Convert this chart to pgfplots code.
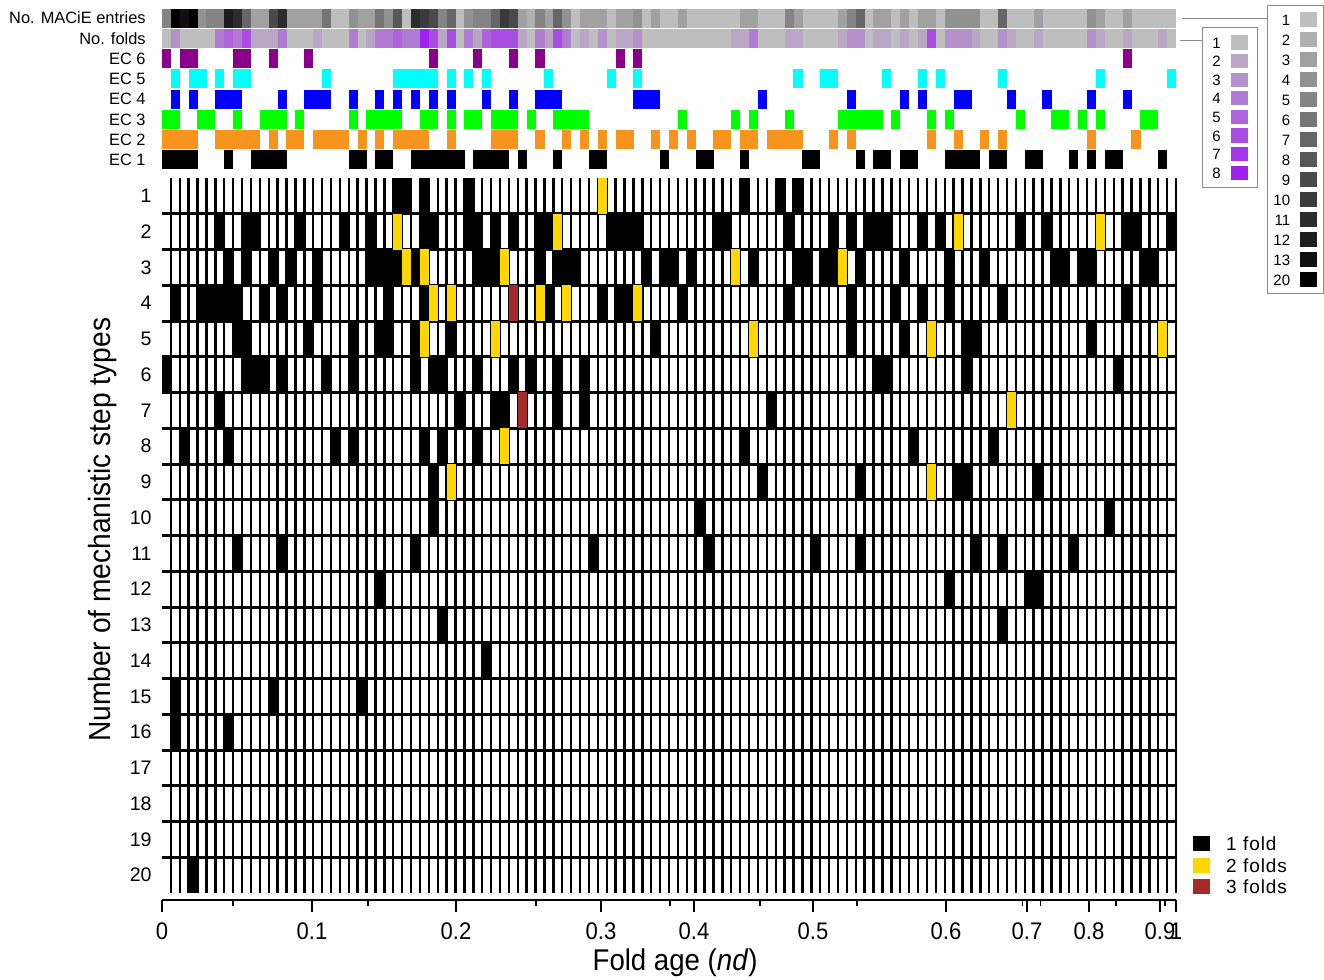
\documentclass[border=0pt]{standalone}
\usepackage{fontspec}
\usepackage{pgfplots}
\pgfplotsset{compat=1.18}
\usepackage{pgfplotstable}
\setmainfont{Liberation Sans}
\newfontfamily\narrowfont[FakeStretch=0.92]{Liberation Sans}

\definecolor{ecsix}{RGB}{139,0,139}
\definecolor{ecfive}{RGB}{0,255,255}
\definecolor{ecfour}{RGB}{0,0,255}
\definecolor{ecthree}{RGB}{0,255,0}
\definecolor{ectwo}{RGB}{247,148,30}
\definecolor{econe}{RGB}{0,0,0}
\definecolor{twofold}{RGB}{255,215,0}
\definecolor{threefold}{RGB}{165,42,42}
\definecolor{boxgray}{RGB}{140,140,140}
\definecolor{m0}{RGB}{190,190,190}\definecolor{m1}{RGB}{175,175,175}
\definecolor{m2}{RGB}{161,161,161}\definecolor{m3}{RGB}{146,146,146}
\definecolor{m4}{RGB}{132,132,132}\definecolor{m5}{RGB}{117,117,117}
\definecolor{m6}{RGB}{102,102,102}\definecolor{m7}{RGB}{88,88,88}
\definecolor{m8}{RGB}{73,73,73}\definecolor{m9}{RGB}{58,58,58}
\definecolor{m10}{RGB}{44,44,44}\definecolor{m11}{RGB}{29,29,29}
\definecolor{m12}{RGB}{15,15,15}\definecolor{m13}{RGB}{0,0,0}
\definecolor{f0}{RGB}{190,190,190}\definecolor{f1}{RGB}{186,167,197}
\definecolor{f2}{RGB}{181,145,204}\definecolor{f3}{RGB}{177,122,211}
\definecolor{f4}{RGB}{173,100,219}\definecolor{f5}{RGB}{169,77,226}
\definecolor{f6}{RGB}{164,55,233}\definecolor{f7}{RGB}{160,32,240}

\pgfdeclareplotmark{cellmain}{\pgfpathrectangle{\pgfqpoint{-2.25pt}{-8.95pt}}{\pgfqpoint{4.5pt}{17.9pt}}\pgfusepathqfill}
\pgfdeclareplotmark{cellstrip}{\pgfpathrectangle{\pgfqpoint{-2.27pt}{-4.7pt}}{\pgfqpoint{4.54pt}{9.4pt}}\pgfusepathqfill}

\pgfplotsset{
  cb/.style={forget plot, only marks, mark=cellmain, black},
  cy/.style={forget plot, only marks, mark=cellmain, twofold},
  cr/.style={forget plot, only marks, mark=cellmain, threefold},
  cs/.style={forget plot, only marks, mark=cellstrip, #1},
}

\pgfplotstableread[row sep=\\]{c k\\0 4\\1 13\\2 12\\3 13\\4 3\\5 4\\6 4\\7 11\\8 10\\9 6\\10 2\\11 2\\12 8\\13 10\\14 2\\15 2\\16 2\\17 2\\18 5\\19 0\\20 0\\21 3\\22 2\\23 2\\24 5\\25 3\\26 7\\27 0\\28 10\\29 9\\30 8\\31 4\\32 6\\33 0\\34 3\\35 4\\36 4\\37 6\\38 9\\39 8\\40 2\\41 1\\42 4\\43 2\\44 6\\45 3\\46 0\\47 2\\48 2\\49 2\\50 0\\51 2\\52 2\\53 3\\54 0\\55 2\\56 0\\57 0\\58 2\\59 0\\60 0\\61 0\\62 0\\63 0\\64 0\\65 2\\66 2\\67 0\\68 0\\69 0\\70 4\\71 2\\72 0\\73 0\\74 0\\75 0\\76 2\\77 4\\78 6\\79 0\\80 2\\81 2\\82 0\\83 2\\84 0\\85 2\\86 2\\87 0\\88 3\\89 3\\90 3\\91 3\\92 0\\93 0\\94 6\\95 0\\96 0\\97 0\\98 2\\99 0\\100 0\\101 0\\102 0\\103 0\\104 3\\105 2\\106 0\\107 0\\108 2\\109 0\\110 0\\111 0\\112 0\\113 0\\}\maciedata

\pgfplotstableread[row sep=\\]{c k\\0 0\\1 2\\2 0\\3 0\\4 0\\5 0\\6 3\\7 4\\8 3\\9 5\\10 1\\11 1\\12 1\\13 3\\14 0\\15 0\\16 0\\17 1\\18 0\\19 0\\20 0\\21 3\\22 0\\23 1\\24 3\\25 3\\26 4\\27 3\\28 3\\29 7\\30 5\\31 1\\32 5\\33 0\\34 3\\35 1\\36 4\\37 5\\38 5\\39 5\\40 1\\41 0\\42 3\\43 1\\44 5\\45 3\\46 0\\47 1\\48 0\\49 2\\50 0\\51 1\\52 1\\53 2\\54 0\\55 0\\56 0\\57 0\\58 0\\59 0\\60 0\\61 0\\62 0\\63 0\\64 1\\65 1\\66 3\\67 0\\68 0\\69 0\\70 1\\71 1\\72 0\\73 0\\74 0\\75 0\\76 1\\77 2\\78 2\\79 0\\80 1\\81 1\\82 0\\83 1\\84 0\\85 1\\86 5\\87 0\\88 2\\89 2\\90 2\\91 1\\92 0\\93 0\\94 2\\95 1\\96 0\\97 0\\98 1\\99 0\\100 0\\101 0\\102 0\\103 0\\104 2\\105 1\\106 0\\107 0\\108 1\\109 0\\110 0\\111 0\\112 1\\113 0\\}\folddata

\begin{document}
\begin{tikzpicture}
\useasboundingbox (0,0) rectangle (662pt,490pt);

% ---------------- top strip ----------------
\begin{axis}[
  at={(81pt,405pt)}, anchor=south west,
  scale only axis, width=507pt, height=81pt,
  xmin=-0.5, xmax=113.5, ymin=0.5, ymax=8.5, y dir=reverse,
  axis line style={draw=none}, clip=false,
  xtick=\empty,
  ytick={1,...,8},
  yticklabels={No. MACiE entries,No. folds,EC 6,EC 5,EC 4,EC 3,EC 2,EC 1},
  major tick length=0pt,
  yticklabel style={font=\fontsize{8.2}{9}\selectfont, inner sep=0pt, xshift=-8pt},
  legend plot pos=right, legend cell align=right,
  legend image code/.code={\fill[#1] (0pt,-3.3pt) rectangle (8pt,3.3pt);},
  legend style={at={(1.0897,1.0185)}, anchor=north west, draw=boxgray, line width=0.5pt,
    font=\fontsize{7.5}{8}\selectfont, inner xsep=3pt, inner ysep=3.5pt, row sep=2.9pt,
    nodes={inner sep=0pt, text height=5.5pt, text depth=0pt},
    /tikz/every odd column/.append style={column sep=5pt}},
]
\pgfplotsinvokeforeach{0,...,13}{
  \addplot[cs=m#1, restrict expr to domain={\thisrow{k}}{#1:#1}] table[x=c, y expr=1] {\maciedata};
}
\pgfplotsinvokeforeach{0,1,2,3,4,5,7}{
  \addplot[cs=f#1, restrict expr to domain={\thisrow{k}}{#1:#1}] table[x=c, y expr=2] {\folddata};
}
\addplot[cs=ecsix] table[row sep=\\, x=c, y expr=3] {c\\0\\2\\3\\8\\9\\12\\16\\30\\35\\39\\42\\51\\53\\108\\};
\addplot[cs=ecfive] table[row sep=\\, x=c, y expr=4] {c\\1\\3\\4\\6\\8\\9\\18\\26\\27\\28\\29\\30\\32\\34\\36\\43\\50\\53\\71\\74\\75\\81\\85\\87\\94\\105\\113\\};
\addplot[cs=ecfour] table[row sep=\\, x=c, y expr=5] {c\\1\\3\\6\\7\\8\\13\\16\\17\\18\\21\\24\\26\\28\\30\\32\\36\\39\\42\\43\\44\\53\\54\\55\\67\\77\\83\\85\\89\\90\\95\\99\\104\\108\\};
\addplot[cs=ecthree] table[row sep=\\, x=c, y expr=6] {c\\0\\1\\4\\5\\8\\11\\12\\13\\15\\21\\23\\24\\25\\26\\29\\30\\32\\34\\35\\37\\38\\39\\41\\44\\45\\46\\47\\58\\64\\66\\70\\76\\77\\78\\79\\80\\82\\86\\88\\96\\100\\101\\103\\105\\110\\111\\};
\addplot[cs=ectwo] table[row sep=\\, x=c, y expr=7] {c\\0\\1\\2\\3\\6\\7\\8\\9\\10\\12\\14\\15\\17\\18\\19\\20\\22\\24\\26\\27\\28\\29\\32\\37\\38\\39\\42\\45\\47\\49\\51\\52\\55\\57\\59\\62\\63\\65\\66\\68\\69\\70\\71\\75\\77\\86\\89\\92\\94\\104\\109\\};
\addplot[cs=econe] table[row sep=\\, x=c, y expr=8] {c\\0\\1\\2\\3\\7\\10\\11\\12\\13\\21\\22\\24\\25\\28\\29\\30\\31\\32\\33\\35\\36\\37\\38\\40\\44\\48\\49\\56\\60\\61\\65\\72\\73\\78\\80\\81\\83\\84\\88\\89\\90\\91\\93\\94\\97\\98\\102\\104\\106\\107\\112\\};
% connector lines to the legends
\addplot[forget plot, boxgray, line width=0.5pt] coordinates {(114.17,1.04) (123.73,1.04)};
\addplot[forget plot, boxgray, line width=0.5pt] coordinates {(113.95,2.13) (116.42,2.13)};
\addlegendimage{m0}\addlegendentry{1}
\addlegendimage{m1}\addlegendentry{2}
\addlegendimage{m2}\addlegendentry{3}
\addlegendimage{m3}\addlegendentry{4}
\addlegendimage{m4}\addlegendentry{5}
\addlegendimage{m5}\addlegendentry{6}
\addlegendimage{m6}\addlegendentry{7}
\addlegendimage{m7}\addlegendentry{8}
\addlegendimage{m8}\addlegendentry{9}
\addlegendimage{m9}\addlegendentry{10}
\addlegendimage{m10}\addlegendentry{11}
\addlegendimage{m11}\addlegendentry{12}
\addlegendimage{m12}\addlegendentry{13}
\addlegendimage{m13}\addlegendentry{20}
\end{axis}

% ---------------- folds legend (hidden axis) ----------------
\begin{axis}[
  at={(81pt,405pt)}, anchor=south west,
  scale only axis, width=507pt, height=81pt,
  xmin=0, xmax=1, ymin=0, ymax=1, hide axis,
  legend plot pos=right, legend cell align=right,
  legend image code/.code={\fill[#1] (0pt,-3.3pt) rectangle (8pt,3.3pt);},
  legend style={at={(1.0256,0.8827)}, anchor=north west, draw=boxgray, line width=0.5pt,
    font=\fontsize{7.5}{8}\selectfont, inner xsep=5pt, inner ysep=4pt, row sep=2.2pt,
    nodes={inner sep=0pt, text height=5.5pt, text depth=0pt},
    /tikz/every odd column/.append style={column sep=5pt}},
]
\addlegendimage{f0}\addlegendentry{1}
\addlegendimage{f1}\addlegendentry{2}
\addlegendimage{f2}\addlegendentry{3}
\addlegendimage{f3}\addlegendentry{4}
\addlegendimage{f4}\addlegendentry{5}
\addlegendimage{f5}\addlegendentry{6}
\addlegendimage{f6}\addlegendentry{7}
\addlegendimage{f7}\addlegendentry{8}
\end{axis}

% ---------------- main grid ----------------
\begin{axis}[
  at={(81pt,43.5pt)}, anchor=south west,
  scale only axis, width=507pt, height=357.5pt,
  xmin=-0.5, xmax=113.5, ymin=0.5, ymax=20.5, y dir=reverse,
  axis line style={draw=none}, clip=false,
  xtick={0.5,1.5,...,113.5}, xticklabels={},
  xmajorgrids,
  ytick={1,...,20},
  minor ytick={1.5,2.5,...,19.5},
  yminorgrids,
  major grid style={black, line width=1.2pt},
  minor grid style={black, line width=1.5pt},
  major tick length=0pt, minor tick length=0pt,
  /pgf/number format/assume math mode=true,
  yticklabel style={font=\fontsize{9.8}{10}\selectfont, inner sep=0pt, xshift=-5pt},
  axis on top,
  legend cell align=left,
  legend image code/.code={\fill[#1] (0pt,-3.5pt) rectangle (8pt,3.5pt);},
  legend style={draw=none, fill=none, at={(1.0168,0.0797)}, anchor=north west,
    inner sep=0pt, row sep=3.25pt,
    font=\fontsize{9.5}{10}\selectfont\addfontfeature{LetterSpace=5},
    nodes={inner sep=0pt, text height=7pt, text depth=0pt},
    /tikz/every odd column/.append style={column sep=8pt}},
]
% 1 fold (black)
\addplot[cb] table[row sep=\\, x=c, y expr=1] {c\\26\\27\\29\\34\\65\\69\\71\\};
\addplot[cb] table[row sep=\\, x=c, y expr=2] {c\\6\\9\\10\\15\\20\\23\\29\\30\\34\\35\\37\\39\\42\\43\\50\\51\\52\\53\\62\\63\\70\\75\\77\\79\\80\\81\\85\\87\\96\\99\\108\\109\\113\\};
\addplot[cb] table[row sep=\\, x=c, y expr=3] {c\\7\\9\\12\\14\\17\\23\\24\\25\\26\\28\\35\\36\\37\\42\\44\\45\\46\\54\\56\\57\\59\\66\\71\\72\\74\\75\\78\\83\\88\\92\\100\\101\\103\\104\\110\\111\\};
\addplot[cb] table[row sep=\\, x=c, y expr=4] {c\\1\\4\\5\\6\\7\\8\\11\\13\\17\\25\\29\\43\\49\\51\\52\\58\\70\\77\\82\\85\\88\\94\\108\\};
\addplot[cb] table[row sep=\\, x=c, y expr=5] {c\\8\\9\\16\\21\\24\\25\\28\\32\\55\\77\\83\\90\\91\\104\\};
\addplot[cb] table[row sep=\\, x=c, y expr=6] {c\\0\\9\\10\\11\\13\\18\\21\\28\\30\\31\\35\\39\\41\\44\\47\\80\\81\\90\\107\\};
\addplot[cb] table[row sep=\\, x=c, y expr=7] {c\\6\\33\\37\\38\\44\\47\\68\\};
\addplot[cb] table[row sep=\\, x=c, y expr=8] {c\\2\\7\\19\\21\\29\\31\\35\\65\\84\\93\\};
\addplot[cb] table[row sep=\\, x=c, y expr=9] {c\\30\\67\\78\\89\\90\\98\\};
\addplot[cb] table[row sep=\\, x=c, y expr=10] {c\\30\\60\\106\\};
\addplot[cb] table[row sep=\\, x=c, y expr=11] {c\\8\\13\\28\\48\\61\\73\\78\\91\\94\\102\\};
\addplot[cb] table[row sep=\\, x=c, y expr=12] {c\\24\\88\\97\\98\\};
\addplot[cb] table[row sep=\\, x=c, y expr=13] {c\\31\\94\\};
\addplot[cb] table[row sep=\\, x=c, y expr=14] {c\\36\\};
\addplot[cb] table[row sep=\\, x=c, y expr=15] {c\\1\\12\\22\\};
\addplot[cb] table[row sep=\\, x=c, y expr=16] {c\\1\\7\\};
\addplot[cb] table[row sep=\\, x=c, y expr=20] {c\\3\\};
% 2 folds (yellow)
\addplot[cy] table[row sep=\\, x=c, y=r] {c r\\49 1\\26 2\\44 2\\89 2\\105 2\\27 3\\29 3\\38 3\\64 3\\76 3\\30 4\\32 4\\42 4\\45 4\\53 4\\29 5\\37 5\\66 5\\86 5\\112 5\\95 7\\38 8\\32 9\\86 9\\};
% 3 folds (brown)
\addplot[cr] table[row sep=\\, x=c, y=r] {c r\\39 4\\40 7\\};
\addlegendimage{black}\addlegendentry{1 fold}
\addlegendimage{twofold}\addlegendentry{2 folds}
\addlegendimage{threefold}\addlegendentry{3 folds}
\node[rotate=90, font=\narrowfont\fontsize{15.3}{16}\selectfont] at (axis description cs:-0.0582,0.508) {Number of mechanistic step types};
\end{axis}

% ---------------- x axis (fold age) ----------------
\begin{axis}[
  at={(81pt,40pt)}, anchor=south west,
  scale only axis, width=507pt, height=2pt,
  xmin=-0.5, xmax=113.5, ymin=0, ymax=1,
  axis x line*=bottom, axis y line=none,
  x axis line style={-, line width=0.6pt},
  xtick={-0.5,16.36,32.55,48.85,59.31,72.69,87.64,96.75,103.72,111.7,113.5},
  xticklabels={0,0.1,0.2,0.3,0.4,0.5,0.6,0.7,0.8,0.9,1},
  minor xtick={7.48,22.66,41.55,56.61,66.73,77.63,96.2,98.3,106.75,112.26},
  tick align=outside, major tick length=6pt, minor tick length=3pt,
  tick style={black, line width=0.6pt},
  xticklabel style={font=\narrowfont\fontsize{12}{12}\selectfont, yshift=-2pt},
  clip=false,
]
\addplot[forget plot, draw=none] coordinates {(0,0)};
\node[font=\narrowfont\fontsize{15}{16}\selectfont] at (axis description cs:0.506,0) [yshift=-31.5pt] {Fold age (\textit{nd})};
\end{axis}
\end{tikzpicture}
\end{document}
